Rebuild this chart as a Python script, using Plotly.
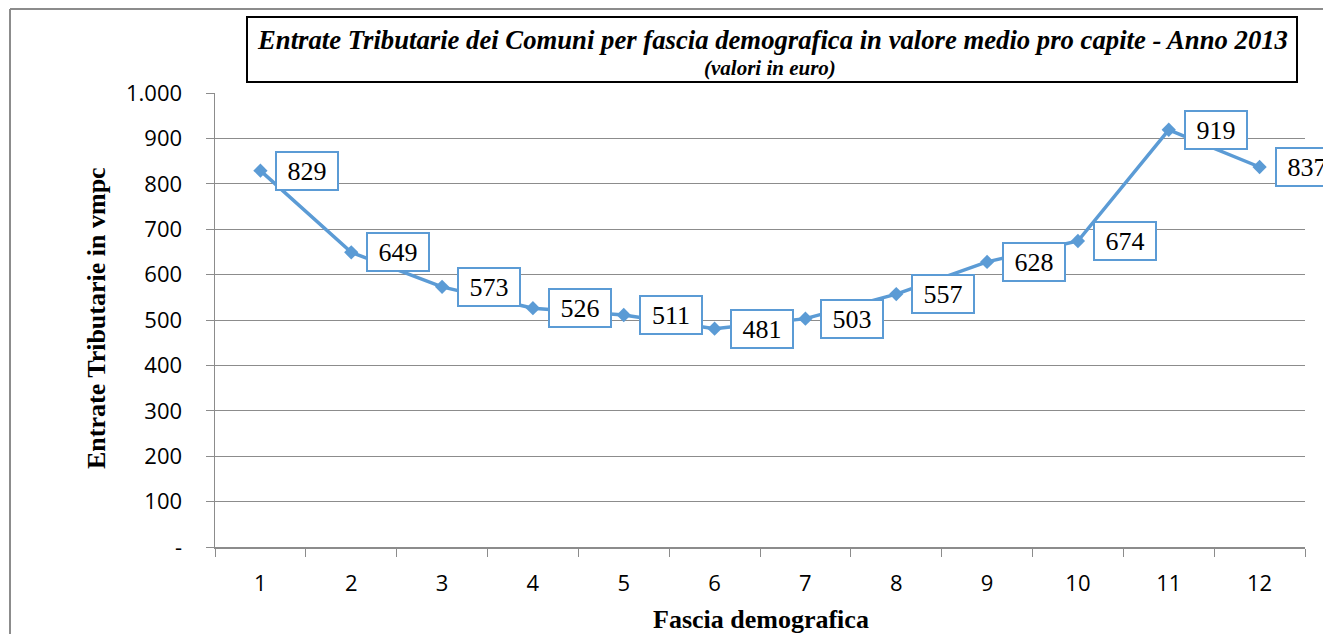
import plotly.graph_objects as go

categories = ["1", "2", "3", "4", "5", "6", "7", "8", "9", "10", "11", "12"]
values = [829, 649, 573, 526, 511, 481, 503, 557, 628, 674, 919, 837]
y_tickvals = [0, 100, 200, 300, 400, 500, 600, 700, 800, 900, 1000]
y_ticktext = ["-", "100", "200", "300", "400", "500", "600", "700", "800", "900", "1.000"]

title_main = "Entrate Tributarie dei Comuni per fascia demografica in valore medio pro capite - Anno 2013"
title_sub = "(valori in euro)"
x_title = "Fascia demografica"
y_title = "Entrate Tributarie in vmpc"

BLUE = "#5B9BD5"
GRID = "#8C8C8C"
SERIF = "Liberation Serif"
SANS = "Open Sans"

# body margin is removed by post_script, so screen coords == figure coords
OFF = 0
W, H = 1323, 634
L = 215 - OFF
T = 93 - OFF
R = W - (1305 - OFF)
B = H - (547 - OFF)
pw = W - L - R
ph = H - T - B

def px(sx):
    return (sx - OFF - L) / pw

def py(sy):
    return (H - B - (sy - OFF)) / ph

fig = go.Figure()
fig.add_trace(go.Scatter(
    x=categories, y=values, mode="lines+markers",
    line=dict(color=BLUE, width=3.5),
    marker=dict(symbol="diamond", size=11, color=BLUE),
    hoverinfo="skip", showlegend=False, cliponaxis=False,
))

annotations = []
for i, v in enumerate(values):
    annotations.append(dict(
        x=i, y=v, xref="x", yref="y", text=str(v), showarrow=False,
        xanchor="left", yanchor="middle", xshift=15,
        font=dict(family=SERIF, size=26, color="black"),
        bgcolor="white", bordercolor=BLUE, borderwidth=2, borderpad=1,
        width=58, height=34,
    ))

annotations.append(dict(
    x=px(772), y=py(40), xref="paper", yref="paper",
    text="<b><i>" + title_main + "</i></b>", showarrow=False,
    xanchor="center", yanchor="middle",
    font=dict(family=SERIF, size=26.7, color="black"),
))
annotations.append(dict(
    x=px(770), y=py(68), xref="paper", yref="paper",
    text="<b><i>" + title_sub + "</i></b>", showarrow=False,
    xanchor="center", yanchor="middle",
    font=dict(family=SERIF, size=21, color="black"),
))
annotations.append(dict(
    x=px(96), y=py(318), xref="paper", yref="paper",
    text="<b>" + y_title + "</b>", showarrow=False, textangle=-90,
    xanchor="center", yanchor="middle",
    font=dict(family=SERIF, size=26, color="black"),
))
annotations.append(dict(
    x=px(761), y=py(619), xref="paper", yref="paper",
    text="<b>" + x_title + "</b>", showarrow=False,
    xanchor="center", yanchor="middle",
    font=dict(family=SERIF, size=26, color="black"),
))

shapes = [
    dict(type="line", xref="paper", yref="paper", x0=px(10), x1=px(10), y0=py(9), y1=py(H + 20),
         line=dict(color=GRID, width=2)),
    dict(type="line", xref="paper", yref="paper", x0=px(10), x1=px(W + 20), y0=py(9), y1=py(9),
         line=dict(color=GRID, width=2)),
    dict(type="rect", xref="paper", yref="paper", x0=px(247), x1=px(1297), y0=py(17), y1=py(82),
         line=dict(color="black", width=2), fillcolor="white", layer="below"),
]

fig.update_layout(
    width=W, height=H,
    margin=dict(l=L, r=R, t=T, b=B, pad=0),
    paper_bgcolor="white", plot_bgcolor="white",
    annotations=annotations, shapes=shapes,
    xaxis=dict(
        type="category", range=[-0.5, 11.5], tickson="boundaries",
        ticks="outside", ticklen=8, tickcolor=GRID, tickwidth=1,
        showline=True, linecolor=GRID, linewidth=1.5,
        showgrid=False, zeroline=False,
        tickfont=dict(family=SANS, size=22, color="black"),
        ticklabelstandoff=16,
    ),
    yaxis=dict(
        range=[0, 1000], tickvals=y_tickvals, ticktext=y_ticktext,
        ticks="outside", ticklen=8, tickcolor=GRID, tickwidth=1,
        showline=True, linecolor=GRID, linewidth=1.5,
        showgrid=True, gridcolor=GRID, gridwidth=1, zeroline=False,
        tickfont=dict(family=SANS, size=22, color="black"),
        ticklabelstandoff=19,
    ),
)

fig.write_html(
    "out.html",
    config={"displayModeBar": False, "staticPlot": True},
    post_script="document.body.style.margin='0';document.body.style.overflow='hidden';",
)
